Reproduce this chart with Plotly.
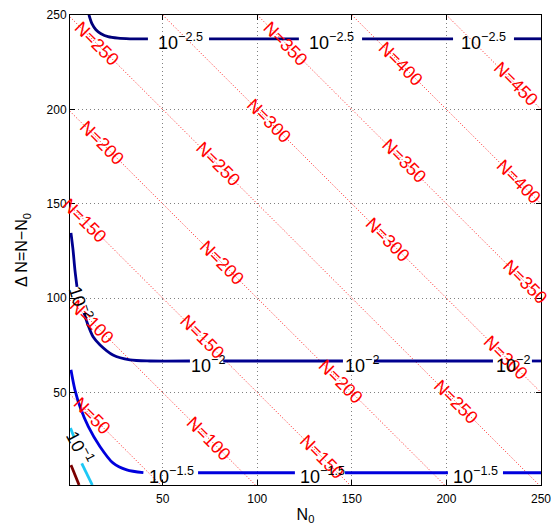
import plotly.graph_objects as go

# ---- data ----
# total N values of the dotted iso-N lines  (N = N0 + dN)
N_levels = [50, 100, 150, 200, 250, 300, 350, 400, 450]

# N= label placements: N value and N0 position along the line
N_label_N = [250, 200, 150, 100, 50, 300, 350, 400, 450, 250, 200, 350, 400,
             300, 350, 250, 300, 200, 150, 150, 100]
N_label_x = [15.3, 17.9, 8.9, 12.6, 12.6, 106.2, 115.1, 175.9, 236.7, 79.2, 81.4,
             177.6, 238.4, 169.1, 241.6, 205.1, 231.5, 144.3, 134.2, 70.8, 74.5]

# contour lines (levels are log10 values); None separates pieces broken by labels
lvl_m25_x = [11.0, 12.6, 14.7, 17.4, 21.1, 26.4, 32.7, 42.2, None, 74.5, 122.0, None, 155.4, 203.5, None, 235.7, 250]
lvl_m25_y = [250.1, 245.4, 242.2, 240.1, 238.5, 237.7, 237.4, 237.4, None, 237.4, 237.4, None, 237.4, 237.4, None, 237.4, 237.4]

lvl_m20_x = [1.5, 2.6, 3.6, 4.7, None, 8.4, 10.5, 13.2, 16.9, 23.7, 32.7, 43.3, 64.4, None, 82.0, 145.3, None, 161.7, 224.6, None, 245.2, 250]
lvl_m20_y = [134.6, 125.6, 115.0, 106.0, None, 92.2, 85.8, 79.5, 75.2, 69.9, 67.3, 66.7, 66.7, None, 66.7, 66.7, None, 66.7, 66.7, None, 66.7, 66.7]

lvl_m15_x = [1.5, 3.6, 6.3, 10.7, 16.9, 23.7, 31.0, 39.8, None, 68.7, 119.9, None, 146.4, 200.8, None, 229.9, 250]
lvl_m15_y = [62.0, 51.4, 42.5, 31.9, 21.3, 12.7, 9.0, 7.5, None, 7.5, 7.5, None, 7.5, 7.5, None, 7.5, 7.5]

lvl_m10_x = [1.26, 3.1, None, 7.2, 12.8]
lvl_m10_y = [31.2, 26.4, None, 12.5, 1.0]

lvl_m05_x = [1.5, 5.8]
lvl_m05_y = [11.6, 1.0]

contour_levels = ["−2.5", "−2", "−1.5", "−1", "−0.5"]
contour_colors = ["#00007A", "#000090", "#0000DD", "#1EC8F5", "#7A0000"]

# contour label positions (N0, dN, exponent text, angle)
clab_x = [59.2, 139.5, 219.6, 74.0, 155.4, 235.2, 54.4, 134.6, 215.6, 6.3, 6.3]
clab_y = [235.8, 235.8, 235.8, 64.6, 64.6, 64.6, 6.0, 6.0, 6.0, 97.5, 21.1]
clab_t = ["−2.5", "−2.5", "−2.5", "−2", "−2", "−2", "−1.5", "−1.5", "−1.5", "−2", "−1"]
clab_a = [0, 0, 0, 0, 0, 0, 0, 0, 0, 72, 62]

x_ticks = [50, 100, 150, 200, 250]
y_ticks = [50, 100, 150, 200, 250]
axis_range = [1, 250]

FONT = "Liberation Sans, Arial, Helvetica, sans-serif"

fig = go.Figure()

# iso-N dotted lines
for N in N_levels:
    x0 = max(axis_range[0], N - axis_range[1])
    x1 = min(axis_range[1], N - axis_range[0])
    fig.add_trace(go.Scatter(x=[x0, x1], y=[N - x0, N - x1], mode="lines",
                             line=dict(color="#FF2020", width=1, dash="1px,2px"),
                             hoverinfo="skip", showlegend=False))

# contour lines
for xs, ys, col in [(lvl_m25_x, lvl_m25_y, contour_colors[0]),
                    (lvl_m20_x, lvl_m20_y, contour_colors[1]),
                    (lvl_m15_x, lvl_m15_y, contour_colors[2]),
                    (lvl_m10_x, lvl_m10_y, contour_colors[3]),
                    (lvl_m05_x, lvl_m05_y, contour_colors[4])]:
    fig.add_trace(go.Scatter(x=xs, y=ys, mode="lines",
                             line=dict(color=col, width=2.8, shape="spline", smoothing=0.8),
                             connectgaps=False, hoverinfo="skip", showlegend=False))

ann = []
for N, x in zip(N_label_N, N_label_x):
    ann.append(dict(x=x, y=N - x, text=f"N={N}", showarrow=False, textangle=45,
                    xanchor="center", yanchor="middle",
                    font=dict(family=FONT, size=18, color="#FF0000")))
for x, y, t, a in zip(clab_x, clab_y, clab_t, clab_a):
    ann.append(dict(x=x, y=y, text=f"10<sup>{t}</sup>", showarrow=False, textangle=a,
                    xanchor="center", yanchor="middle",
                    font=dict(family=FONT, size=18, color="#000000")))

axis_common = dict(range=axis_range, showline=True, linecolor="black", linewidth=1,
                   mirror="ticks", ticks="inside", ticklen=5, tickcolor="black",
                   showgrid=True, gridcolor="#808080", griddash="1px,3px", gridwidth=1,
                   zeroline=False, automargin=False, ticklabeloverflow="allow",
                   tickfont=dict(family=FONT, size=12, color="black"))

fig.update_layout(
    width=551, height=525,
    margin=dict(l=70, r=10, t=15, b=40),
    paper_bgcolor="white", plot_bgcolor="white",
    showlegend=False,
    annotations=ann,
    xaxis=dict(**axis_common, tickvals=x_ticks, ticklabelstandoff=3,
               title=dict(text="N<sub>0</sub>", font=dict(family=FONT, size=16, color="black"),
                          standoff=4)),
    yaxis=dict(**axis_common, tickvals=y_ticks,
               title=dict(text="Δ N=N−N<sub>0</sub>", font=dict(family=FONT, size=16, color="black"),
                          standoff=14)),
)

fig.write_html("out.html", config={"displayModeBar": False},
               post_script="document.body.style.margin='0px';document.body.style.overflow='hidden';")
